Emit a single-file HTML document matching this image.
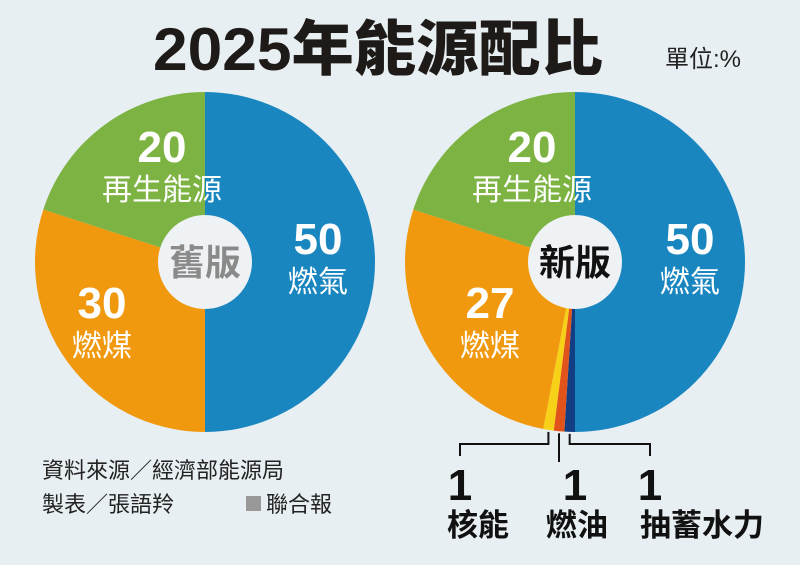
<!DOCTYPE html>
<html><head><meta charset="utf-8"><style>
body{margin:0;width:800px;height:560px;background:#e8eff2;overflow:hidden;font-family:"Liberation Sans","Noto Sans CJK TC",sans-serif}
svg text{font-family:"Liberation Sans","Noto Sans CJK TC",sans-serif}
</style></head><body>
<svg id="c" width="800" height="560">
<text x="153" y="70" textLength="450" lengthAdjust="spacingAndGlyphs" font-size="60" font-weight="900" fill="#1e1a18">2025年能源配比</text>
<text x="703" y="67" text-anchor="middle" font-size="24" fill="#222">單位:%</text>
<g id="pies"></g>
<text x="42" y="478" font-size="22" fill="#222">資料來源／經濟部能源局</text>
<text x="42" y="512" font-size="22" fill="#222">製表／張語羚</text>
<rect x="246" y="496" width="15" height="15" fill="#999"/>
<text x="266" y="512" font-size="22" fill="#222">聯合報</text>
</svg>
<script>
const categories=["燃氣","抽蓄水力","燃油","核能","燃煤","再生能源"];
const oldValues=[50,0,0,0,30,20];
const newValues=[50,1,1,1,27,20];
const colors=["#1a86c0","#123f84","#e0541c","#f7d117","#f0990f","#7cb342"];
const NS="http://www.w3.org/2000/svg";
const g=document.getElementById('pies');
function mk(t,a){const e=document.createElementNS(NS,t);for(const k in a)e.setAttribute(k,a[k]);return e;}
function pt(cx,cy,r,a){return [cx+r*Math.sin(a),cy-r*Math.cos(a)];}
function pie(cx,cy,vals,name,center){
 const tot=vals.reduce((a,b)=>a+b,0);const R=170,r0=47;let a=0;const mids=[];
 vals.forEach((v,i)=>{const a1=a+v/tot*2*Math.PI;mids.push([a,a1]);
  if(v>0){const[x0,y0]=pt(cx,cy,R,a),[x1,y1]=pt(cx,cy,R,a1);const lg=a1-a>Math.PI?1:0;
  const p=mk('path',{d:`M${cx},${cy}L${x0},${y0}A${R},${R} 0 ${lg} 1 ${x1},${y1}Z`,fill:colors[i]});
  
  
  g.appendChild(p);}a=a1;});
 const h=mk('circle',{cx:cx,cy:cy,r:r0,fill:'#eef2f4'});
 
 
 g.appendChild(h);
 const t=mk('text',{x:cx,y:cy+13,'text-anchor':'middle','font-size':36,'font-weight':'bold',fill:center=='舊版'?'#8a8a8a':'#111'});t.textContent=center;
 
 
 g.appendChild(t);
 return mids;
}
function lbl(x,y,num,txt,name){
 const n=mk('text',{x:x,y:y,'text-anchor':'middle','font-size':44,'font-weight':'bold',fill:'#fff'});n.textContent=num;
 
 
 g.appendChild(n);
 const t=mk('text',{x:x,y:y+38,'text-anchor':'middle','font-size':30,fill:'#fff'});t.textContent=txt;
 
 
 g.appendChild(t);
}
pie(205,262,oldValues,'old-pie','舊版');
lbl(318,254,oldValues[0],categories[0],'old-gas');
lbl(102,318,oldValues[4],categories[4],'old-coal');
lbl(162,162,oldValues[5],categories[5],'old-renewable');
const m=pie(575,262,newValues,'new-pie','新版');
lbl(690,254,newValues[0],categories[0],'new-gas');
lbl(490,318,newValues[4],categories[4],'new-coal');
lbl(532,162,newValues[5],categories[5],'new-renewable');
const small=[[3,460,478,'核能'],[2,575,577,'燃油'],[1,650,702,'抽蓄水力']];
small.forEach(([i,lx,tx,txt])=>{const am=(m[i][0]+m[i][1])/2;const[x,y]=pt(575,262,170,am);
 const path=mk('path',{d:lx==575?`M${x},${y+2}V462`:`M${x},${y+2}V444H${lx}V456`,stroke:'#111','stroke-width':2,fill:'none'});
 
 
 g.appendChild(path);
 const n=mk('text',{x:lx,y:500,'text-anchor':'middle','font-size':44,'font-weight':'bold',fill:'#111'});n.textContent=newValues[i];
 
 
 g.appendChild(n);
 const t=mk('text',{x:tx,y:536,'text-anchor':'middle','font-size':31,'font-weight':'bold',fill:'#111'});t.textContent=txt;
 
 
 g.appendChild(t);
});
</script>
</body></html>
